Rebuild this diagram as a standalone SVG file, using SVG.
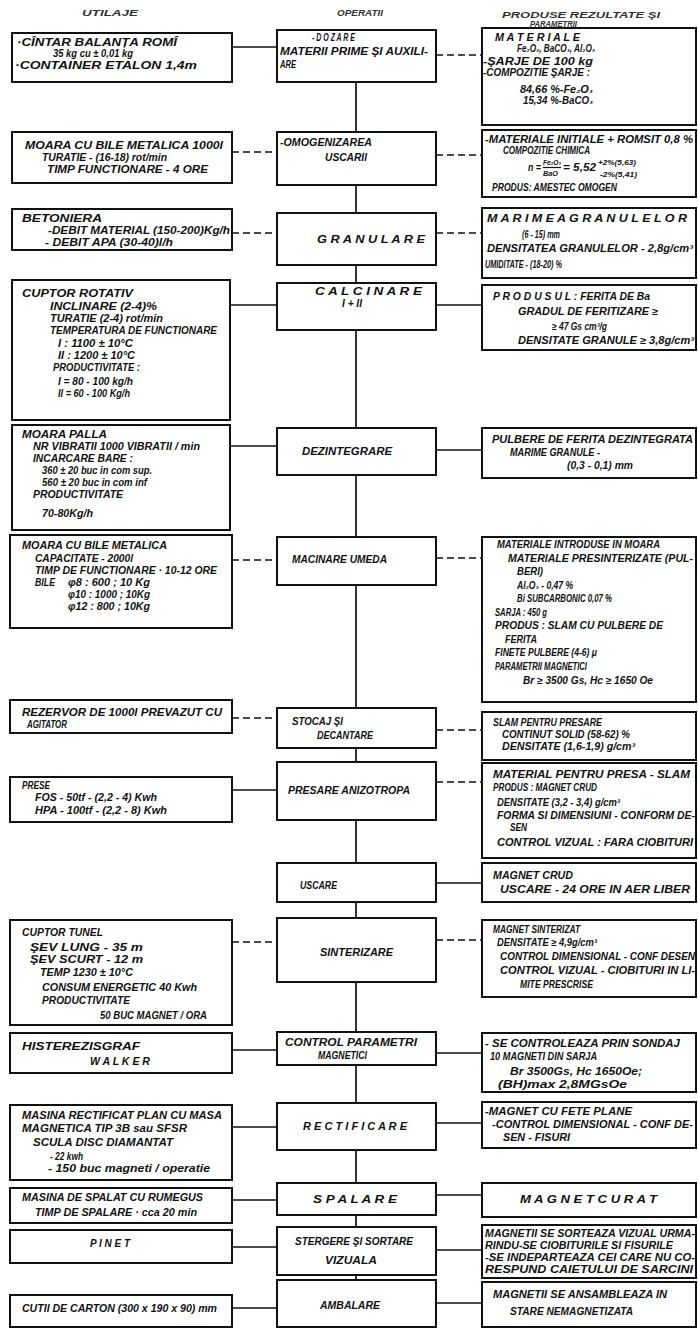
<svg xmlns="http://www.w3.org/2000/svg" width="698" height="1329" viewBox="0 0 698 1329">
<style>
.bx{fill:#fff;stroke:#111;stroke-width:2}
.t{font-family:"Liberation Sans","DejaVu Sans",sans-serif;font-weight:bold;font-style:italic;font-size:10px;fill:#111}
.l{font-size:10.5px}
.s{font-size:8px}
.h{font-size:8.5px;fill:#333}
.c{stroke:#111;stroke-width:1.7;fill:none}
.d{stroke:#111;stroke-width:1.7;fill:none;stroke-dasharray:7 4}
</style>
<rect width="698" height="1329" fill="#fff"/>
<g id="headers">
<text class="t h" x="82" y="16" textLength="56" lengthAdjust="spacingAndGlyphs">UTILAJE</text>
<text class="t h" x="337" y="16" textLength="46" lengthAdjust="spacingAndGlyphs">OPERATII</text>
<text class="t h" x="502" y="18" textLength="158" lengthAdjust="spacingAndGlyphs">PRODUSE REZULTATE ŞI</text>
<text class="t h" x="530" y="27" textLength="47" lengthAdjust="spacingAndGlyphs">PARAMETRII</text>
</g>
<g id="connectors">
<path class="c" d="M356 82V132M356 185V213M356 265V283M356 330V428M356 475V537M356 585V708M356 748V762M356 820V863M356 902V918M356 982V1032M356 1065V1103M356 1150V1183M356 1215V1227M356 1275V1280"/>
<path class="c" d="M232 47H277"/>
<path class="d" d="M436 55H482"/>
<path class="d" d="M232 152H277M436 155H482M232 233H277M436 233H482"/>
<path class="c" d="M230 305H277M436 305H482M230 446H277M436 450H482"/>
<path class="d" d="M232 560H277M436 558H482M232 718H277M436 730H482"/>
<path class="c" d="M232 790H277"/>
<path class="d" d="M436 782H482"/>
<path class="c" d="M436 883H482"/>
<path class="d" d="M232 942H277M436 940H482"/>
<path class="c" d="M232 1050H277M436 1053H482M232 1127H277M436 1123H482M232 1200H277M436 1195H482M232 1247H277M436 1250H482M232 1308H277M436 1303H482"/>
</g>
<g id="L1"><rect class="bx" x="12" y="33" width="220" height="49"/>
<text class="t l" x="17" y="46" textLength="160" lengthAdjust="spacingAndGlyphs">·CÎNTAR BALANȚA ROMÎ</text>
<text class="t l" x="53" y="57" textLength="80" lengthAdjust="spacingAndGlyphs">35 kg cu ± 0,01 kg</text>
<text class="t l" x="15" y="69" textLength="182" lengthAdjust="spacingAndGlyphs">·CONTAINER ETALON 1,4m</text></g>
<g id="L2"><rect class="bx" x="12" y="132" width="220" height="51"/>
<text class="t l" x="25" y="149" textLength="198" lengthAdjust="spacingAndGlyphs">MOARA CU BILE METALICA 1000l</text>
<text class="t l" x="42" y="161" textLength="125" lengthAdjust="spacingAndGlyphs">TURATIE - (16-18) rot/min</text>
<text class="t l" x="47" y="173" textLength="161" lengthAdjust="spacingAndGlyphs">TIMP FUNCTIONARE - 4 ORE</text></g>
<g id="L3"><rect class="bx" x="12" y="209" width="220" height="41"/>
<text class="t l" x="22" y="222" textLength="80" lengthAdjust="spacingAndGlyphs">BETONIERA</text>
<text class="t l" x="48" y="234" textLength="182" lengthAdjust="spacingAndGlyphs">-DEBIT MATERIAL (150-200)Kg/h</text>
<text class="t l" x="45" y="246" textLength="128" lengthAdjust="spacingAndGlyphs">- DEBIT APA (30-40)l/h</text></g>
<g id="L4"><rect class="bx" x="12" y="280" width="218" height="140"/>
<text class="t l" x="22" y="297" textLength="111" lengthAdjust="spacingAndGlyphs">CUPTOR ROTATIV</text>
<text class="t l" x="50" y="310" textLength="107" lengthAdjust="spacingAndGlyphs">INCLINARE (2-4)%</text>
<text class="t l" x="50" y="322" textLength="113" lengthAdjust="spacingAndGlyphs">TURATIE (2-4) rot/min</text>
<text class="t l" x="50" y="334" textLength="167" lengthAdjust="spacingAndGlyphs">TEMPERATURA DE FUNCTIONARE</text>
<text class="t l" x="58" y="347" textLength="75" lengthAdjust="spacingAndGlyphs">I : 1100 ± 10°C</text>
<text class="t l" x="58" y="359" textLength="77" lengthAdjust="spacingAndGlyphs">II : 1200 ± 10°C</text>
<text class="t l" x="53" y="371" textLength="87" lengthAdjust="spacingAndGlyphs">PRODUCTIVITATE :</text>
<text class="t l" x="58" y="385" textLength="75" lengthAdjust="spacingAndGlyphs">I = 80 - 100 kg/h</text>
<text class="t l" x="58" y="397" textLength="72" lengthAdjust="spacingAndGlyphs">II = 60 - 100 Kg/h</text></g>
<g id="L5"><rect class="bx" x="12" y="425" width="218" height="105"/>
<text class="t l" x="22" y="438" textLength="85" lengthAdjust="spacingAndGlyphs">MOARA PALLA</text>
<text class="t l" x="33" y="450" textLength="167" lengthAdjust="spacingAndGlyphs">NR VIBRATII 1000 VIBRATII / min</text>
<text class="t l" x="33" y="462" textLength="100" lengthAdjust="spacingAndGlyphs">INCARCARE BARE :</text>
<text class="t l" x="42" y="474" textLength="110" lengthAdjust="spacingAndGlyphs">360 ± 20 buc in com sup.</text>
<text class="t l" x="42" y="486" textLength="105" lengthAdjust="spacingAndGlyphs">560 ± 20 buc in com inf</text>
<text class="t l" x="33" y="498" textLength="90" lengthAdjust="spacingAndGlyphs">PRODUCTIVITATE</text>
<text class="t l" x="42" y="517" textLength="51" lengthAdjust="spacingAndGlyphs">70-80Kg/h</text></g>
<g id="L6"><rect class="bx" x="10" y="535" width="222" height="93"/>
<text class="t l" x="22" y="549" textLength="145" lengthAdjust="spacingAndGlyphs">MOARA CU BILE METALICA</text>
<text class="t l" x="35" y="562" textLength="98" lengthAdjust="spacingAndGlyphs">CAPACITATE - 2000l</text>
<text class="t l" x="35" y="574" textLength="182" lengthAdjust="spacingAndGlyphs">TIMP DE FUNCTIONARE · 10-12 ORE</text>
<text class="t l" x="35" y="586" textLength="20" lengthAdjust="spacingAndGlyphs">BILE</text>
<text class="t l" x="68" y="586" textLength="82" lengthAdjust="spacingAndGlyphs">φ8 : 600 ; 10 Kg</text>
<text class="t l" x="68" y="598" textLength="82" lengthAdjust="spacingAndGlyphs">φ10 : 1000 ; 10Kg</text>
<text class="t l" x="68" y="610" textLength="82" lengthAdjust="spacingAndGlyphs">φ12 : 800 ; 10Kg</text></g>
<g id="L7"><rect class="bx" x="10" y="700" width="222" height="33"/>
<text class="t l" x="22" y="716" textLength="200" lengthAdjust="spacingAndGlyphs">REZERVOR DE 1000l PREVAZUT CU</text>
<text class="t l" x="27" y="728" textLength="40" lengthAdjust="spacingAndGlyphs">AGITATOR</text></g>
<g id="L8"><rect class="bx" x="10" y="777" width="222" height="45"/>
<text class="t l" x="22" y="789" textLength="28" lengthAdjust="spacingAndGlyphs">PRESE</text>
<text class="t l" x="35" y="801" textLength="122" lengthAdjust="spacingAndGlyphs">FOS - 50tf - (2,2 - 4) Kwh</text>
<text class="t l" x="35" y="814" textLength="132" lengthAdjust="spacingAndGlyphs">HPA - 100tf - (2,2 - 8) Kwh</text></g>
<g id="L9"><rect class="bx" x="10" y="920" width="222" height="105"/>
<text class="t l" x="22" y="936" textLength="81" lengthAdjust="spacingAndGlyphs">CUPTOR TUNEL</text>
<text class="t l" x="30" y="951" textLength="113" lengthAdjust="spacingAndGlyphs">ŞEV LUNG - 35 m</text>
<text class="t l" x="30" y="963" textLength="113" lengthAdjust="spacingAndGlyphs">ŞEV SCURT - 12 m</text>
<text class="t l" x="40" y="976" textLength="93" lengthAdjust="spacingAndGlyphs">TEMP 1230 ± 10°C</text>
<text class="t l" x="42" y="991" textLength="155" lengthAdjust="spacingAndGlyphs">CONSUM ENERGETIC 40 Kwh</text>
<text class="t l" x="42" y="1004" textLength="88" lengthAdjust="spacingAndGlyphs">PRODUCTIVITATE</text>
<text class="t l" x="100" y="1019" textLength="107" lengthAdjust="spacingAndGlyphs">50 BUC MAGNET / ORA</text></g>
<g id="L10"><rect class="bx" x="10" y="1033" width="222" height="40"/>
<text class="t l" x="22" y="1050" textLength="118" lengthAdjust="spacingAndGlyphs">HISTEREZISGRAF</text>
<text class="t l" x="90" y="1065" textLength="60" lengthAdjust="spacingAndGlyphs">W A L K E R</text></g>
<g id="L11"><rect class="bx" x="10" y="1105" width="222" height="75"/>
<text class="t l" x="22" y="1119" textLength="200" lengthAdjust="spacingAndGlyphs">MASINA RECTIFICAT PLAN CU MASA</text>
<text class="t l" x="22" y="1132" textLength="165" lengthAdjust="spacingAndGlyphs">MAGNETICA TIP 3B sau SFSR</text>
<text class="t l" x="33" y="1146" textLength="140" lengthAdjust="spacingAndGlyphs">SCULA DISC DIAMANTAT</text>
<text class="t l" x="50" y="1160" textLength="33" lengthAdjust="spacingAndGlyphs">- 22 kwh</text>
<text class="t l" x="48" y="1172" textLength="162" lengthAdjust="spacingAndGlyphs">- 150 buc magneti / operatie</text></g>
<g id="L12"><rect class="bx" x="10" y="1188" width="222" height="35"/>
<text class="t l" x="22" y="1201" textLength="181" lengthAdjust="spacingAndGlyphs">MASINA DE SPALAT CU RUMEGUS</text>
<text class="t l" x="35" y="1216" textLength="162" lengthAdjust="spacingAndGlyphs">TIMP DE SPALARE · cca 20 min</text></g>
<g id="L13"><rect class="bx" x="10" y="1230" width="222" height="33"/>
<text class="t l" x="90" y="1247" textLength="40" lengthAdjust="spacingAndGlyphs">P I N E T</text></g>
<g id="L14"><rect class="bx" x="10" y="1295" width="222" height="32"/>
<text class="t l" x="22" y="1312" textLength="195" lengthAdjust="spacingAndGlyphs">CUTII DE CARTON (300 x 190 x 90) mm</text></g>
<g id="M1"><rect class="bx" x="277" y="30" width="159" height="52"/>
<text class="t" x="312" y="41" textLength="43" lengthAdjust="spacingAndGlyphs">- D O Z A R E</text>
<text class="t" x="280" y="55" textLength="148" lengthAdjust="spacingAndGlyphs">MATERII PRIME ŞI AUXILI-</text>
<text class="t" x="280" y="68" textLength="16" lengthAdjust="spacingAndGlyphs">ARE</text></g>
<g id="M2"><rect class="bx" x="277" y="132" width="159" height="53"/>
<text class="t" x="280" y="146" textLength="92" lengthAdjust="spacingAndGlyphs">-OMOGENIZAREA</text>
<text class="t" x="325" y="161" textLength="42" lengthAdjust="spacingAndGlyphs">USCARII</text></g>
<g id="M3"><rect class="bx" x="277" y="213" width="159" height="52"/>
<text class="t" x="317" y="243" textLength="108" lengthAdjust="spacingAndGlyphs">G R A N U L A R E</text></g>
<g id="M4"><rect class="bx" x="277" y="283" width="159" height="47"/>
<text class="t" x="315" y="295" textLength="107" lengthAdjust="spacingAndGlyphs">C A L C I N A R E</text>
<text class="t" x="342" y="307" textLength="20" lengthAdjust="spacingAndGlyphs">I + II</text></g>
<g id="M5"><rect class="bx" x="277" y="428" width="159" height="47"/>
<text class="t" x="302" y="455" textLength="90" lengthAdjust="spacingAndGlyphs">DEZINTEGRARE</text></g>
<g id="M6"><rect class="bx" x="277" y="537" width="159" height="48"/>
<text class="t" x="292" y="563" textLength="95" lengthAdjust="spacingAndGlyphs">MACINARE UMEDA</text></g>
<g id="M7"><rect class="bx" x="277" y="708" width="159" height="40"/>
<text class="t" x="292" y="725" textLength="51" lengthAdjust="spacingAndGlyphs">STOCAJ ŞI</text>
<text class="t" x="317" y="739" textLength="56" lengthAdjust="spacingAndGlyphs">DECANTARE</text></g>
<g id="M8"><rect class="bx" x="277" y="762" width="159" height="58"/>
<text class="t" x="288" y="794" textLength="122" lengthAdjust="spacingAndGlyphs">PRESARE ANIZOTROPA</text></g>
<g id="M9"><rect class="bx" x="277" y="863" width="159" height="39"/>
<text class="t" x="300" y="889" textLength="37" lengthAdjust="spacingAndGlyphs">USCARE</text></g>
<g id="M10"><rect class="bx" x="277" y="918" width="159" height="64"/>
<text class="t" x="320" y="956" textLength="73" lengthAdjust="spacingAndGlyphs">SINTERIZARE</text></g>
<g id="M11"><rect class="bx" x="277" y="1032" width="159" height="33"/>
<text class="t" x="285" y="1046" textLength="132" lengthAdjust="spacingAndGlyphs">CONTROL PARAMETRI</text>
<text class="t" x="318" y="1059" textLength="49" lengthAdjust="spacingAndGlyphs">MAGNETICI</text></g>
<g id="M12"><rect class="bx" x="277" y="1103" width="159" height="47"/>
<text class="t" x="303" y="1130" textLength="104" lengthAdjust="spacingAndGlyphs">R E C T I F I C A R E</text></g>
<g id="M13"><rect class="bx" x="277" y="1183" width="159" height="32"/>
<text class="t" x="313" y="1203" textLength="84" lengthAdjust="spacingAndGlyphs">S P A L A R E</text></g>
<g id="M14"><rect class="bx" x="277" y="1227" width="159" height="48"/>
<text class="t" x="295" y="1245" textLength="118" lengthAdjust="spacingAndGlyphs">STERGERE ŞI SORTARE</text>
<text class="t" x="325" y="1264" textLength="52" lengthAdjust="spacingAndGlyphs">VIZUALA</text></g>
<g id="M15"><rect class="bx" x="277" y="1280" width="159" height="47"/>
<text class="t" x="320" y="1309" textLength="60" lengthAdjust="spacingAndGlyphs">AMBALARE</text></g>
<g id="R1"><rect class="bx" x="482" y="28" width="214" height="97"/>
<text class="t" x="495" y="41" textLength="85" lengthAdjust="spacingAndGlyphs">M A T E R I A L E</text>
<text class="t" x="517" y="52" textLength="78" lengthAdjust="spacingAndGlyphs">Fe₂O₃, BaCO₃, Al₂O₃</text>
<text class="t" x="483" y="65" textLength="110" lengthAdjust="spacingAndGlyphs">-ŞARJE DE 100 kg</text>
<text class="t" x="483" y="76" textLength="107" lengthAdjust="spacingAndGlyphs">-COMPOZITIE ŞARJE :</text>
<text class="t" x="520" y="93" textLength="73" lengthAdjust="spacingAndGlyphs">84,66 %-Fe₂O₃</text>
<text class="t" x="523" y="104" textLength="70" lengthAdjust="spacingAndGlyphs">15,34 %-BaCO₃</text></g>
<g id="R2"><rect class="bx" x="482" y="130" width="214" height="67"/>
<text class="t" x="485" y="143" textLength="208" lengthAdjust="spacingAndGlyphs">-MATERIALE INITIALE + ROMSIT 0,8 %</text>
<text class="t" x="503" y="154" textLength="87" lengthAdjust="spacingAndGlyphs">COMPOZITIE CHIMICA</text>
<text class="t" x="528" y="171" textLength="13" lengthAdjust="spacingAndGlyphs">n =</text>
<text class="t s" x="543" y="165" textLength="18" lengthAdjust="spacingAndGlyphs">Fe₂O₃</text>
<path d="M543 167.5H561" stroke="#111" stroke-width="1.2"/>
<text class="t s" x="543" y="176" textLength="15" lengthAdjust="spacingAndGlyphs">BaO</text>
<text class="t" x="563" y="171" textLength="33" lengthAdjust="spacingAndGlyphs">= 5,52</text>
<text class="t s" x="598" y="165" textLength="38" lengthAdjust="spacingAndGlyphs">+2%(5,63)</text>
<text class="t s" x="600" y="177" textLength="37" lengthAdjust="spacingAndGlyphs">-2%(5,41)</text>
<text class="t" x="492" y="191" textLength="125" lengthAdjust="spacingAndGlyphs">PRODUS: AMESTEC OMOGEN</text></g>
<g id="R3"><rect class="bx" x="482" y="208" width="214" height="70"/>
<text class="t" x="487" y="222" textLength="200" lengthAdjust="spacingAndGlyphs">M A R I M E A   G R A N U L E L O R</text>
<text class="t" x="522" y="238" textLength="38" lengthAdjust="spacingAndGlyphs">(6 - 15) mm</text>
<text class="t" x="487" y="252" textLength="206" lengthAdjust="spacingAndGlyphs">DENSITATEA GRANULELOR - 2,8g/cm³</text>
<text class="t" x="485" y="268" textLength="77" lengthAdjust="spacingAndGlyphs">UMIDITATE - (18-20) %</text></g>
<g id="R4"><rect class="bx" x="482" y="285" width="214" height="65"/>
<text class="t" x="493" y="300" textLength="157" lengthAdjust="spacingAndGlyphs">P R O D U S U L : FERITA DE Ba</text>
<text class="t" x="518" y="315" textLength="140" lengthAdjust="spacingAndGlyphs">GRADUL DE FERITIZARE ≥</text>
<text class="t" x="552" y="330" textLength="55" lengthAdjust="spacingAndGlyphs">≥ 47 Gs cm³/g</text>
<text class="t" x="518" y="344" textLength="176" lengthAdjust="spacingAndGlyphs">DENSITATE GRANULE ≥ 3,8g/cm³</text></g>
<g id="R5"><rect class="bx" x="482" y="428" width="214" height="50"/>
<text class="t" x="492" y="443" textLength="201" lengthAdjust="spacingAndGlyphs">PULBERE DE FERITA DEZINTEGRATA</text>
<text class="t" x="510" y="456" textLength="90" lengthAdjust="spacingAndGlyphs">MARIME GRANULE -</text>
<text class="t" x="567" y="469" textLength="66" lengthAdjust="spacingAndGlyphs">(0,3 - 0,1) mm</text></g>
<g id="R6"><rect class="bx" x="482" y="537" width="214" height="165"/>
<text class="t" x="497" y="548" textLength="163" lengthAdjust="spacingAndGlyphs">MATERIALE INTRODUSE IN MOARA</text>
<text class="t" x="508" y="562" textLength="185" lengthAdjust="spacingAndGlyphs">MATERIALE PRESINTERIZATE (PUL-</text>
<text class="t" x="517" y="575" textLength="26" lengthAdjust="spacingAndGlyphs">BERI)</text>
<text class="t" x="517" y="589" textLength="56" lengthAdjust="spacingAndGlyphs">Al₂O₃ - 0,47 %</text>
<text class="t" x="517" y="602" textLength="95" lengthAdjust="spacingAndGlyphs">Bi SUBCARBONIC 0,07 %</text>
<text class="t" x="495" y="616" textLength="52" lengthAdjust="spacingAndGlyphs">SARJA : 450 g</text>
<text class="t" x="495" y="629" textLength="168" lengthAdjust="spacingAndGlyphs">PRODUS : SLAM CU PULBERE DE</text>
<text class="t" x="505" y="643" textLength="32" lengthAdjust="spacingAndGlyphs">FERITA</text>
<text class="t" x="495" y="656" textLength="102" lengthAdjust="spacingAndGlyphs">FINETE PULBERE (4-6) μ</text>
<text class="t" x="495" y="670" textLength="92" lengthAdjust="spacingAndGlyphs">PARAMETRII MAGNETICI</text>
<text class="t" x="523" y="684" textLength="130" lengthAdjust="spacingAndGlyphs">Br ≥ 3500 Gs, Hc ≥ 1650 Oe</text></g>
<g id="R7"><rect class="bx" x="482" y="712" width="214" height="48"/>
<text class="t" x="493" y="726" textLength="109" lengthAdjust="spacingAndGlyphs">SLAM PENTRU PRESARE</text>
<text class="t" x="502" y="738" textLength="128" lengthAdjust="spacingAndGlyphs">CONTINUT SOLID (58-62) %</text>
<text class="t" x="502" y="750" textLength="133" lengthAdjust="spacingAndGlyphs">DENSITATE (1,6-1,9) g/cm³</text></g>
<g id="R8"><rect class="bx" x="482" y="763" width="214" height="95"/>
<text class="t" x="493" y="778" textLength="197" lengthAdjust="spacingAndGlyphs">MATERIAL PENTRU PRESA - SLAM</text>
<text class="t" x="493" y="791" textLength="104" lengthAdjust="spacingAndGlyphs">PRODUS : MAGNET CRUD</text>
<text class="t" x="497" y="806" textLength="123" lengthAdjust="spacingAndGlyphs">DENSITATE (3,2 - 3,4) g/cm³</text>
<text class="t" x="497" y="819" textLength="198" lengthAdjust="spacingAndGlyphs">FORMA SI DIMENSIUNI - CONFORM DE-</text>
<text class="t" x="510" y="831" textLength="17" lengthAdjust="spacingAndGlyphs">SEN</text>
<text class="t" x="497" y="846" textLength="196" lengthAdjust="spacingAndGlyphs">CONTROL VIZUAL : FARA CIOBITURI</text></g>
<g id="R9"><rect class="bx" x="482" y="863" width="214" height="39"/>
<text class="t" x="493" y="879" textLength="80" lengthAdjust="spacingAndGlyphs">MAGNET CRUD</text>
<text class="t" x="500" y="893" textLength="190" lengthAdjust="spacingAndGlyphs">USCARE - 24 ORE IN AER LIBER</text></g>
<g id="R10"><rect class="bx" x="482" y="920" width="214" height="77"/>
<text class="t" x="493" y="933" textLength="87" lengthAdjust="spacingAndGlyphs">MAGNET SINTERIZAT</text>
<text class="t" x="497" y="946" textLength="100" lengthAdjust="spacingAndGlyphs">DENSITATE ≥ 4,9g/cm³</text>
<text class="t" x="500" y="960" textLength="195" lengthAdjust="spacingAndGlyphs">CONTROL DIMENSIONAL - CONF DESEN</text>
<text class="t" x="500" y="974" textLength="195" lengthAdjust="spacingAndGlyphs">CONTROL VIZUAL - CIOBITURI IN LI-</text>
<text class="t" x="520" y="988" textLength="73" lengthAdjust="spacingAndGlyphs">MITE PRESCRISE</text></g>
<g id="R11"><rect class="bx" x="482" y="1033" width="214" height="59"/>
<text class="t" x="485" y="1047" textLength="195" lengthAdjust="spacingAndGlyphs">- SE CONTROLEAZA PRIN SONDAJ</text>
<text class="t" x="490" y="1060" textLength="107" lengthAdjust="spacingAndGlyphs">10 MAGNETI DIN SARJA</text>
<text class="t" x="510" y="1075" textLength="132" lengthAdjust="spacingAndGlyphs">Br 3500Gs, Hc 1650Oe;</text>
<text class="t" x="498" y="1088" textLength="129" lengthAdjust="spacingAndGlyphs">(BH)max 2,8MGsOe</text></g>
<g id="R12"><rect class="bx" x="482" y="1102" width="214" height="46"/>
<text class="t" x="485" y="1115" textLength="147" lengthAdjust="spacingAndGlyphs">-MAGNET CU FETE PLANE</text>
<text class="t" x="492" y="1128" textLength="201" lengthAdjust="spacingAndGlyphs">-CONTROL DIMENSIONAL - CONF DE-</text>
<text class="t" x="503" y="1141" textLength="67" lengthAdjust="spacingAndGlyphs">SEN - FISURI</text></g>
<g id="R13"><rect class="bx" x="482" y="1183" width="214" height="34"/>
<text class="t" x="520" y="1203" textLength="137" lengthAdjust="spacingAndGlyphs">M A G N E T   C U R A T</text></g>
<g id="R14"><rect class="bx" x="482" y="1225" width="214" height="53"/>
<text class="t" x="485" y="1237" textLength="210" lengthAdjust="spacingAndGlyphs">MAGNETII SE SORTEAZA VIZUAL URMA-</text>
<text class="t" x="485" y="1249" textLength="188" lengthAdjust="spacingAndGlyphs">RINDU-SE CIOBITURILE SI FISURILE</text>
<text class="t" x="485" y="1261" textLength="210" lengthAdjust="spacingAndGlyphs">-SE INDEPARTEAZA CEI CARE NU CO-</text>
<text class="t" x="485" y="1273" textLength="208" lengthAdjust="spacingAndGlyphs">RESPUND CAIETULUI DE SARCINI</text></g>
<g id="R15"><rect class="bx" x="482" y="1282" width="214" height="45"/>
<text class="t" x="493" y="1298" textLength="174" lengthAdjust="spacingAndGlyphs">MAGNETII SE ANSAMBLEAZA IN</text>
<text class="t" x="510" y="1315" textLength="123" lengthAdjust="spacingAndGlyphs">STARE NEMAGNETIZATA</text></g>
</svg>
